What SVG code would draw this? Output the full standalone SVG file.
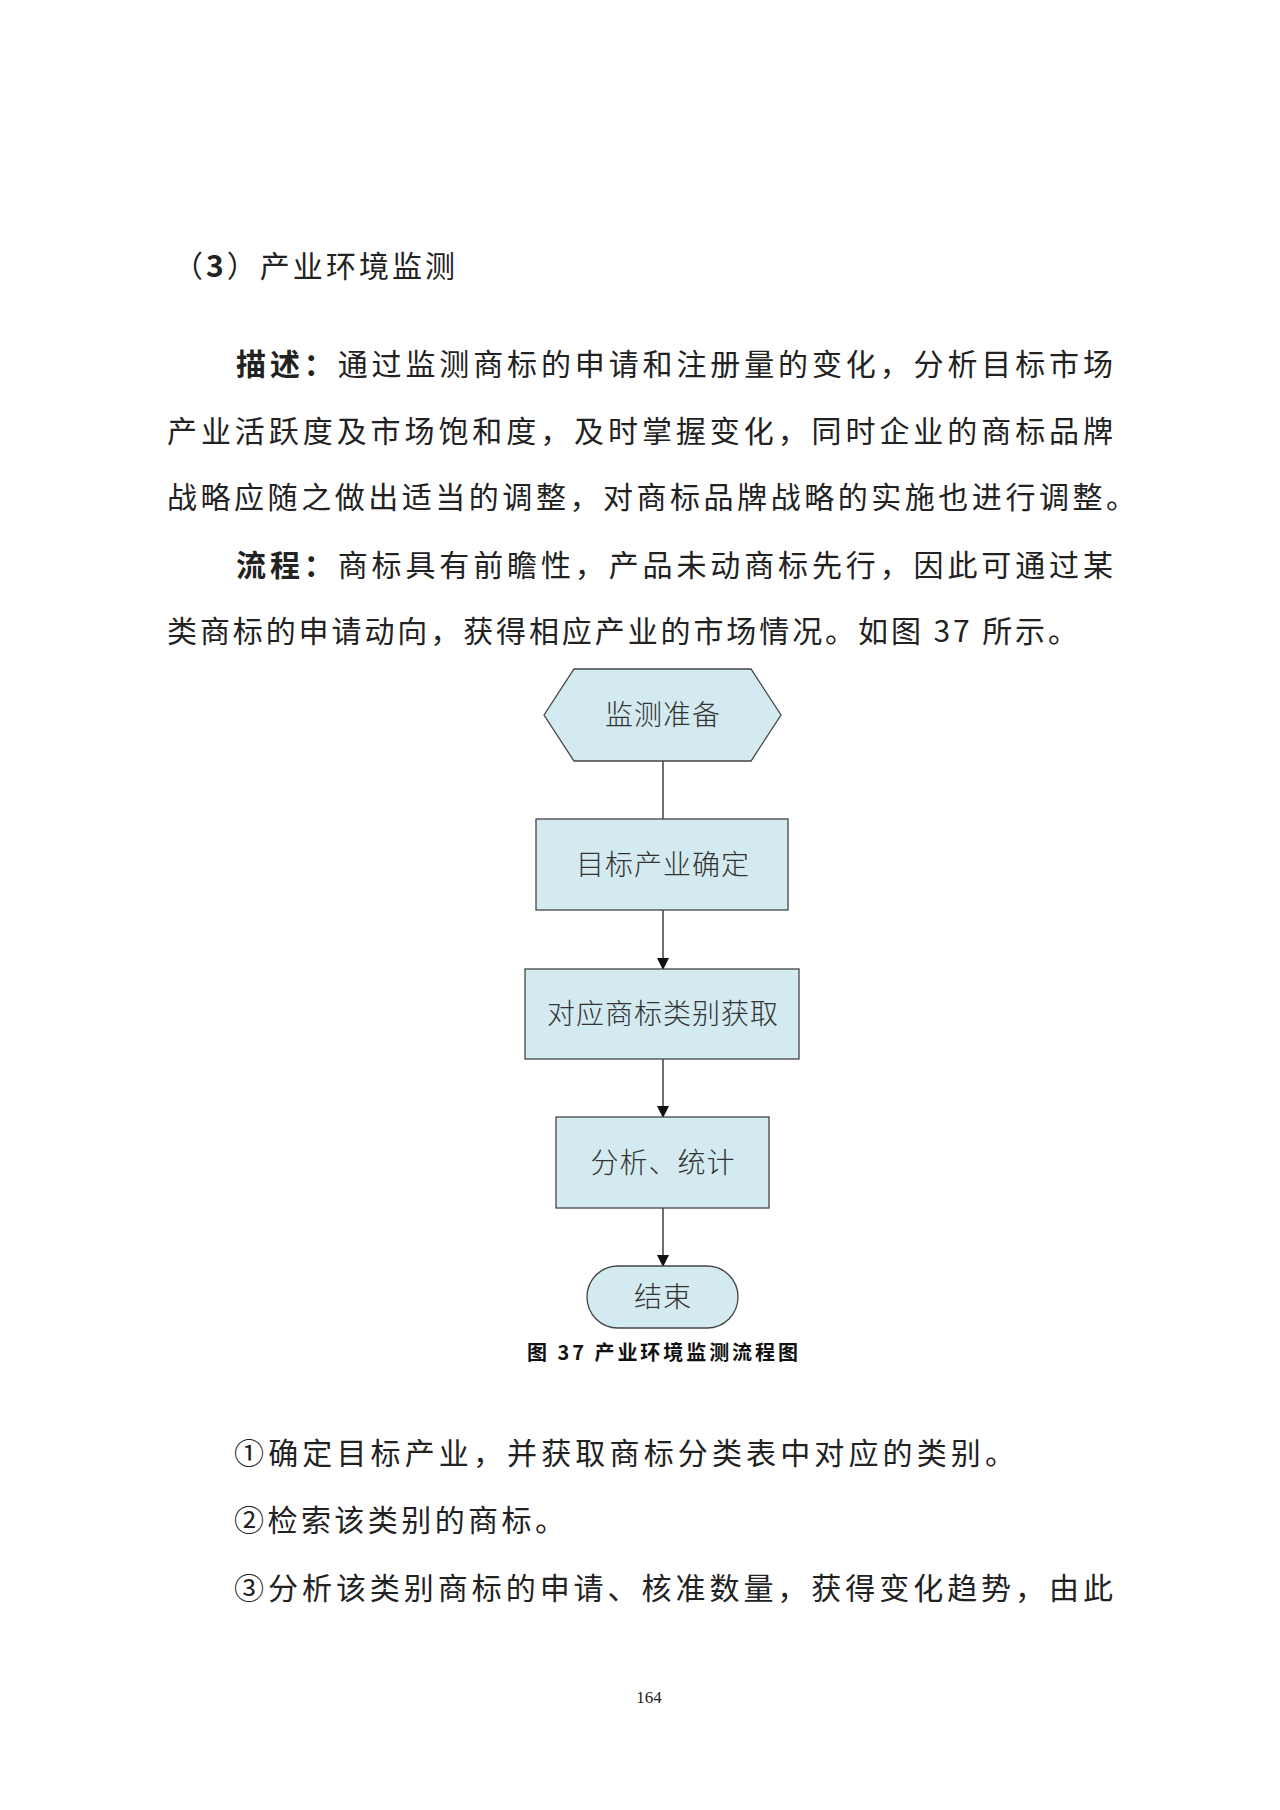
<svg xmlns="http://www.w3.org/2000/svg" width="1280" height="1810" viewBox="0 0 1280 1810">
<style>
.b{font-family:"Noto Sans CJK SC","Liberation Sans",sans-serif;font-size:30px;fill:#222}
.n{fill:#d3eaf0;stroke:#444;stroke-width:1.3}
.t{font-family:"Noto Sans CJK SC",sans-serif;font-size:28px;fill:#333;text-anchor:middle;font-weight:300;letter-spacing:1px}
.c{stroke:#222;stroke-width:1.3;fill:none}
</style>
<defs><marker id="a" markerWidth="12" markerHeight="12" refX="11" refY="6" orient="auto" markerUnits="userSpaceOnUse"><path d="M0,0L12,6L0,12Z" fill="#111"/></marker></defs>
<rect width="1280" height="1810" fill="#fff"/>
<text class="b" x="173" y="277" font-size="32" textLength="282" lengthAdjust="spacing">（<tspan font-weight="bold">3</tspan>）产业环境监测</text>
<text class="b" x="236" y="375" textLength="877" lengthAdjust="spacing"><tspan font-weight="bold">描述：</tspan>通过监测商标的申请和注册量的变化，分析目标市场</text>
<text class="b" x="167" y="442" textLength="946" lengthAdjust="spacing">产业活跃度及市场饱和度，及时掌握变化，同时企业的商标品牌</text>
<text class="b" x="167" y="508" textLength="969" lengthAdjust="spacing">战略应随之做出适当的调整，对商标品牌战略的实施也进行调整。</text>
<text class="b" x="236" y="576" textLength="877" lengthAdjust="spacing"><tspan font-weight="bold">流程：</tspan>商标具有前瞻性，产品未动商标先行，因此可通过某</text>
<text class="b" x="167" y="642" textLength="911" lengthAdjust="spacing">类商标的申请动向，获得相应产业的市场情况。如图 37 所示。</text>
<g id="connectors">
<line class="c" x1="663" y1="761" x2="663" y2="819"/>
<line class="c" x1="663" y1="910" x2="663" y2="969" marker-end="url(#a)"/>
<line class="c" x1="663" y1="1059" x2="663" y2="1117" marker-end="url(#a)"/>
<line class="c" x1="663" y1="1208" x2="663" y2="1266" marker-end="url(#a)"/>
</g>
<g id="n1"><polygon class="n" points="544,715 574,669 751,669 781,715 751,761 574,761"/><text class="t" x="663" y="725">监测准备</text></g>
<g id="n2"><rect class="n" x="536" y="819" width="252" height="91"/><text class="t" x="663" y="875">目标产业确定</text></g>
<g id="n3"><rect class="n" x="525" y="969" width="274" height="90"/><text class="t" x="663" y="1024">对应商标类别获取</text></g>
<g id="n4"><rect class="n" x="556" y="1117" width="213" height="91"/><text class="t" x="663" y="1173">分析、统计</text></g>
<g id="n5"><rect class="n" x="587" y="1266" width="151" height="62" rx="31"/><text class="t" x="663" y="1307">结束</text></g>
<text x="527" y="1360" font-family="Noto Sans CJK SC,sans-serif" font-size="20" font-weight="bold" fill="#111" textLength="271" lengthAdjust="spacing">图 37 产业环境监测流程图</text>
<text class="b" x="234" y="1464" textLength="781" lengthAdjust="spacing">①确定目标产业，并获取商标分类表中对应的类别。</text>
<text class="b" x="234" y="1531" textLength="331" lengthAdjust="spacing">②检索该类别的商标。</text>
<text class="b" x="234" y="1599" textLength="879" lengthAdjust="spacing">③分析该类别商标的申请、核准数量，获得变化趋势，由此</text>
<text x="649" y="1703" font-family="Liberation Serif,serif" font-size="17" text-anchor="middle" fill="#222">164</text>
</svg>
